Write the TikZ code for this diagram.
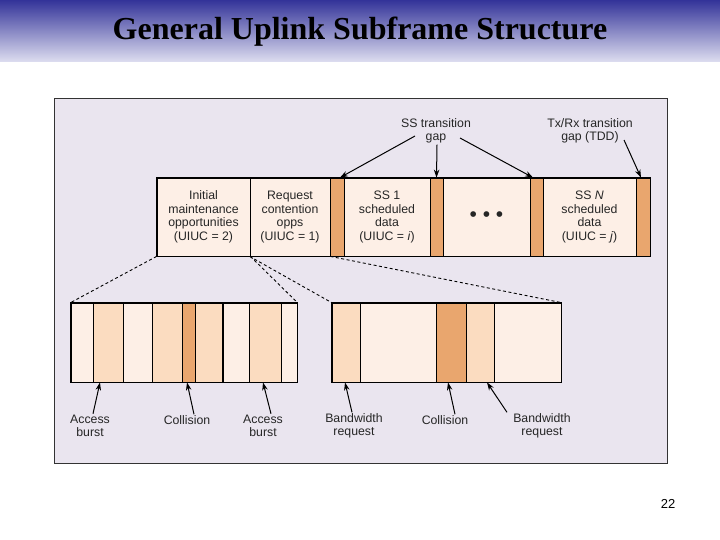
\documentclass[tikz,border=0pt]{standalone}
\usepackage{fontspec}
\setmainfont{Liberation Sans}
\newfontfamily\titlefont{Liberation Serif}
\usepackage{xcolor}
\usepackage{tikz}
\usetikzlibrary{calc, arrows.meta, positioning, shapes}

\definecolor{light}{HTML}{FDEFE6}
\definecolor{peach}{HTML}{FBDCC0}
\definecolor{gapor}{HTML}{E9A66E}
\definecolor{panel}{HTML}{EAE5EF}
\definecolor{bandtop}{HTML}{333399}
\definecolor{bandmid}{HTML}{9090C6}
\definecolor{bandbot}{HTML}{DEDEF0}

\begin{document}
\begin{tikzpicture}[x=1pt, y=-1pt, font=\fontsize{12.3}{13.5}\selectfont]
		\tikzstyle{cell} = [draw=black, line width=0.8pt, rectangle, inner sep=0pt, minimum height=78pt, align=center, text=black!85]
		\tikzstyle{slot} = [draw=black, line width=0.8pt, rectangle, inner sep=0pt, minimum height=79pt]
		\tikzstyle{label} = [align=center, inner sep=1pt, text=black!85]
		\tikzstyle{arrow} = [line width=1pt, -{Stealth[length=8pt, width=5.5pt]}]
		\tikzstyle{zoom} = [line width=0.9pt, dash pattern=on 3pt off 2.5pt]
		
		\useasboundingbox (0, 0) rectangle (720, 540);
		\fill[white] (0, 0) rectangle (720, 540);
		\shade[top color=bandtop, middle color=bandmid, bottom color=bandbot] (0, 0) rectangle (720, 62);
		\node at (360, 32) (title) {\titlefont\fontsize{32}{32}\selectfont\bfseries General Uplink Subframe Structure};
		\filldraw[fill=panel, draw=black!80, line width=1pt] (54, 99) rectangle (667, 463);
		
		% uplink subframe
		\node[cell, fill=light, minimum width=93pt]	at (203.5, 217)	(im)	{Initial\\maintenance\\opportunities\\(UIUC = 2)};
		\node[cell, fill=light, minimum width=80pt]	at (290, 217)	(rc)	{Request\\contention\\opps\\(UIUC = 1)};
		\node[cell, fill=gapor, minimum width=14pt]	at (337, 217)	(g1)	{};
		\node[cell, fill=light, minimum width=86pt]	at (387, 217)	(s1)	{SS 1\\scheduled\\data\\(UIUC = \textit{i})};
		\node[cell, fill=gapor, minimum width=13pt]	at (436.5, 217)	(g2)	{};
		\node[cell, fill=light, minimum width=87pt]	at (486.5, 217)	(dt)	{\fontsize{21}{21}\selectfont\textbullet\ \textbullet\ \textbullet};
		\node[cell, fill=gapor, minimum width=13pt]	at (536.5, 217)	(g3)	{};
		\node[cell, fill=light, minimum width=93pt]	at (589.5, 217)	(sn)	{SS \textit{N}\\scheduled\\data\\(UIUC = \textit{j})};
		\node[cell, fill=gapor, minimum width=14pt]	at (643, 217)	(g4)	{};
		\draw[line width=1.5pt] (im.north west) rectangle (g4.south east);
		
		\node[label]	at (436, 131)	(sst)	{SS transition\\gap};
		\node[label]	at (590, 131)	(txg)	{Tx/Rx transition\\gap (TDD)};
		
		% initial maintenance slots
		\node[slot, fill=light, minimum width=22pt]	at (82, 342.5)	(c1)	{};
		\node[slot, fill=peach, minimum width=30pt]	at (108, 342.5)	(c2)	{};
		\node[slot, fill=light, minimum width=29pt]	at (137.5, 342.5)	(c3)	{};
		\node[slot, fill=peach, minimum width=30pt]	at (167, 342.5)	(c4)	{};
		\node[slot, fill=gapor, minimum width=13pt]	at (188.5, 342.5)	(c5)	{};
		\node[slot, fill=peach, minimum width=28pt]	at (209, 342.5)	(c6)	{};
		\node[slot, fill=light, minimum width=26pt]	at (236, 342.5)	(c7)	{};
		\node[slot, fill=peach, minimum width=32pt]	at (265, 342.5)	(c8)	{};
		\node[slot, fill=light, minimum width=16pt]	at (289, 342.5)	(c9)	{};
		\draw[line width=1.5pt] (c1.north west) rectangle (c9.south east);
		\draw[line width=1.5pt] (c7.north west) -- (c7.south west);
		
		% request contention slots
		\node[slot, fill=peach, minimum width=28pt]	at (346, 342.5)	(d1)	{};
		\node[slot, fill=light, minimum width=76pt]	at (398, 342.5)	(d2)	{};
		\node[slot, fill=gapor, minimum width=30pt]	at (451, 342.5)	(d3)	{};
		\node[slot, fill=peach, minimum width=28pt]	at (480, 342.5)	(d4)	{};
		\node[slot, fill=light, minimum width=67pt]	at (527.5, 342.5)	(d5)	{};
		\draw[line width=1.5pt] (d1.north west) rectangle (d5.south east);
		
		\node[label]	at (90, 426)	(ab1)	{Access\\burst};
		\node[label]	at (187, 420)	(co1)	{Collision};
		\node[label]	at (263, 426)	(ab2)	{Access\\burst};
		\node[label]	at (354, 426)	(bw1)	{Bandwidth\\request};
		\node[label]	at (445, 420)	(co2)	{Collision};
		\node[label]	at (542, 426)	(bw2)	{Bandwidth\\request};
		
		\node at (668, 504) (pg) {\fontsize{13}{13}\selectfont 22};
		
		\draw [zoom] (im.south west) -- (c1.north west);
		\draw [zoom] (im.south east) -- (c9.north east);
		\draw [zoom] (rc.south west) -- (d1.north west);
		\draw [zoom] (rc.south east) -- (d5.north east);
		
		\draw [arrow] ([xshift=-21pt, yshift=-5pt]sst.center) -- ([xshift=3pt]g1.north);
		\draw [arrow] ([xshift=1pt]sst.south) -- (g2.north);
		\draw [arrow] ([xshift=24pt, yshift=-7pt]sst.center) -- ([xshift=-3.5pt]g3.north);
		\draw [arrow] ([xshift=34pt, yshift=-9pt]txg.center) -- ([xshift=-2pt]g4.north);
		
		\draw [arrow] ([xshift=3pt]ab1.north) -- ([xshift=-8pt]c2.south);
		\draw [arrow] ([xshift=7pt]co1.north) -- ([xshift=-1.5pt]c5.south);
		\draw [arrow] ([xshift=8pt]ab2.north) -- ([xshift=-2pt]c8.south);
		\draw [arrow] ([xshift=-2pt]bw1.north) -- ([xshift=-1pt]d1.south);
		\draw [arrow] ([xshift=10pt]co2.north) -- ([xshift=-3pt]d3.south);
		\draw [arrow] ([xshift=-35pt]bw2.north) -- ([xshift=7pt]d4.south);
		
	\end{tikzpicture}
\end{document}
